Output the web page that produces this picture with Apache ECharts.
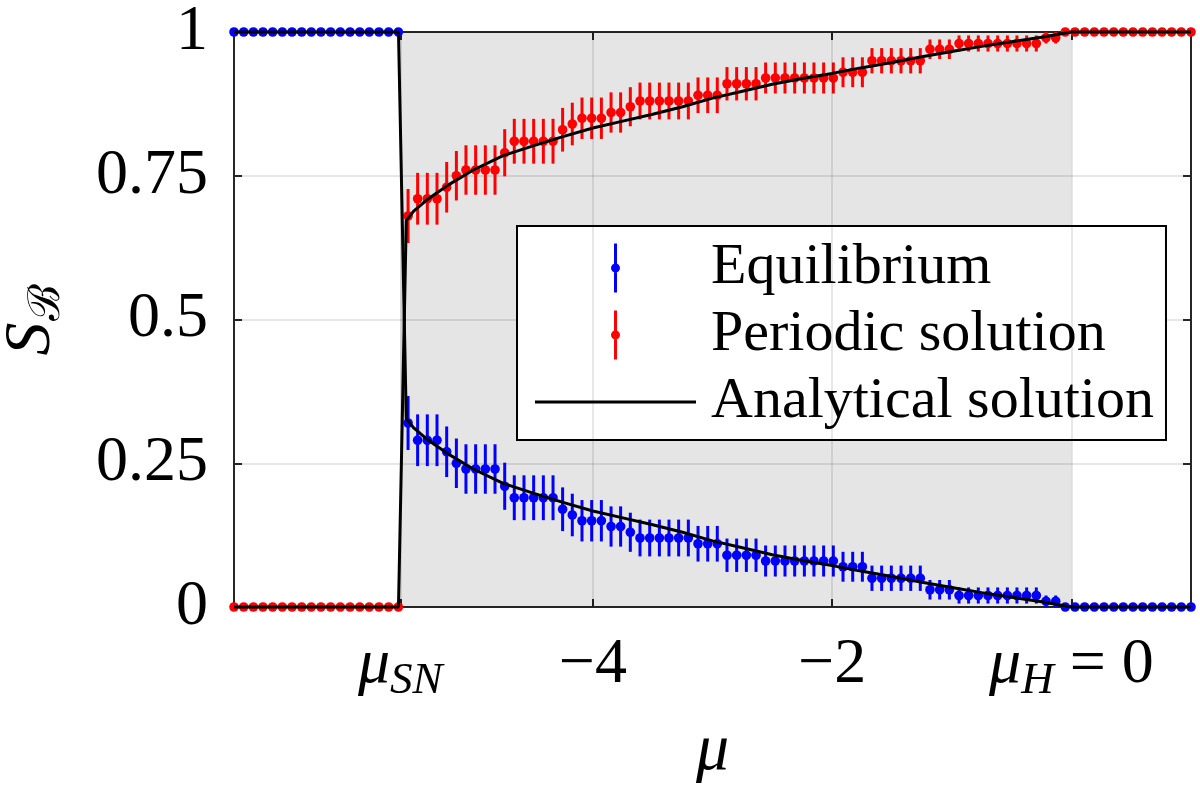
<!DOCTYPE html>
<html>
<head>
<meta charset="utf-8">
<script src="https://cdn.jsdelivr.net/npm/echarts@6/dist/echarts.min.js"></script>
<style>html,body{margin:0;padding:0;background:#fff}#c{width:1200px;height:794px}</style>
</head>
<body>
<div id="c"></div>
<script>
// sample grid of the parameter mu
const mu = [
 -7.000,-6.919,-6.838,-6.758,-6.677,-6.596,-6.515,-6.434,-6.354,-6.273,
 -6.192,-6.111,-6.030,-5.949,-5.869,-5.788,-5.707,-5.626,-5.545,-5.465,
 -5.384,-5.303,-5.222,-5.141,-5.061,-4.980,-4.899,-4.818,-4.737,-4.657,
 -4.576,-4.495,-4.414,-4.333,-4.253,-4.172,-4.091,-4.010,-3.929,-3.848,
 -3.768,-3.687,-3.606,-3.525,-3.444,-3.364,-3.283,-3.202,-3.121,-3.040,
 -2.960,-2.879,-2.798,-2.717,-2.636,-2.556,-2.475,-2.394,-2.313,-2.232,
 -2.152,-2.071,-1.990,-1.909,-1.828,-1.747,-1.667,-1.586,-1.505,-1.424,
 -1.343,-1.263,-1.182,-1.101,-1.020,-0.939,-0.859,-0.778,-0.697,-0.616,
 -0.535,-0.455,-0.374,-0.293,-0.212,-0.131,-0.051,0.030,0.111,0.192,
 0.273,0.354,0.434,0.515,0.596,0.677,0.758,0.838,0.919,1.000];

// basin stability of the equilibrium (blue)
const eqVals = [
 1,1,1,1,1,1,1,1,1,1, 1,1,1,1,1,1,1,1,0.32,0.29,
 0.29,0.29,0.27,0.25,0.24,0.24,0.24,0.24,0.21,0.19,
 0.19,0.19,0.19,0.19,0.17,0.16,0.15,0.15,0.15,0.14,
 0.14,0.13,0.12,0.12,0.12,0.12,0.12,0.12,0.11,0.11,
 0.11,0.09,0.09,0.09,0.09,0.08,0.08,0.08,0.08,0.08,
 0.08,0.08,0.08,0.07,0.07,0.07,0.05,0.05,0.05,0.05,
 0.05,0.05,0.03,0.03,0.03,0.02,0.02,0.02,0.02,0.02,
 0.02,0.02,0.02,0.02,0.01,0.01,0,0,0,0,
 0,0,0,0,0,0,0,0,0,0];

// basin stability of the periodic solution (red)
const perVals = [
 0,0,0,0,0,0,0,0,0,0, 0,0,0,0,0,0,0,0,0.68,0.71,
 0.71,0.71,0.73,0.75,0.76,0.76,0.76,0.76,0.79,0.81,
 0.81,0.81,0.81,0.81,0.83,0.84,0.85,0.85,0.85,0.86,
 0.86,0.87,0.88,0.88,0.88,0.88,0.88,0.88,0.89,0.89,
 0.89,0.91,0.91,0.91,0.91,0.92,0.92,0.92,0.92,0.92,
 0.92,0.92,0.92,0.93,0.93,0.93,0.95,0.95,0.95,0.95,
 0.95,0.95,0.97,0.97,0.97,0.98,0.98,0.98,0.98,0.98,
 0.98,0.98,0.98,0.98,0.99,0.99,1,1,1,1,
 1,1,1,1,1,1,1,1,1,1];

// error bar half-lengths (same for both series)
const errVals = [
 0,0,0,0,0,0,0,0,0,0, 0,0,0,0,0,0,0,0,0.047,0.045,
 0.045,0.045,0.044,0.043,0.043,0.043,0.043,0.043,0.041,0.039,
 0.039,0.039,0.039,0.039,0.038,0.037,0.036,0.036,0.036,0.035,
 0.035,0.034,0.032,0.032,0.032,0.032,0.032,0.032,0.031,0.031,
 0.031,0.029,0.029,0.029,0.029,0.027,0.027,0.027,0.027,0.027,
 0.027,0.027,0.027,0.026,0.026,0.026,0.022,0.022,0.022,0.022,
 0.022,0.022,0.017,0.017,0.017,0.014,0.014,0.014,0.014,0.014,
 0.014,0.014,0.014,0.014,0.010,0.010,0,0,0,0,
 0,0,0,0,0,0,0,0,0,0];

// analytical solution
const anaMu  = [-7,-5.625,-5.56,-5.5,-5.4,-5.3,-5.2,-5.0,-4.75,-4.5,-4.25,-4.0,-3.75,-3.5,-3.25,-3.0,-2.75,-2.5,-2.25,-2.0,-1.75,-1.5,-1.25,-1.0,-0.75,-0.5,-0.25,0,1];
const anaEq  = [1,1,0.328,0.312,0.294,0.279,0.265,0.240,0.215,0.198,0.182,0.167,0.155,0.143,0.130,0.115,0.103,0.091,0.081,0.072,0.062,0.053,0.043,0.034,0.025,0.017,0.009,0,0];
const anaPer = [0,0,0.672,0.688,0.706,0.721,0.735,0.760,0.785,0.802,0.818,0.833,0.845,0.857,0.870,0.885,0.897,0.909,0.919,0.928,0.938,0.947,0.957,0.966,0.975,0.983,0.991,1,1];

const muSN = -5.61;
const muH = 0;
const xTickValues = [muSN, -4, -2, muH];

const FONT = 'Liberation Serif';
const BLUE = '#0000ff', RED = '#ff0000';

function errRender(color) {
  return function (params, api) {
    const x = api.value(0), y = api.value(1), e = api.value(2);
    const p = api.coord([x, y]);
    const children = [];
    if (e > 0) {
      const lo = api.coord([x, y - e]), hi = api.coord([x, y + e]);
      children.push({type: 'line', shape: {x1: lo[0], y1: lo[1], x2: hi[0], y2: hi[1]},
        style: {stroke: color, lineWidth: 3}});
    }
    children.push({type: 'circle', shape: {cx: p[0], cy: p[1], r: 4.8}, style: {fill: color}});
    return {type: 'group', children: children};
  };
}

const eqData = mu.map((m, i) => [m, eqVals[i], errVals[i]]);
const perData = mu.map((m, i) => [m, perVals[i], errVals[i]]);
const anaEqData = anaMu.map((m, i) => [m, anaEq[i]]);
const anaPerData = anaMu.map((m, i) => [m, anaPer[i]]);

const richTick = {
  n:   {fontFamily: FONT, fontSize: 64, lineHeight: 80, color: '#000'},
  it:  {fontFamily: FONT, fontSize: 64, lineHeight: 80, fontStyle: 'italic', color: '#000'},
  sub: {fontFamily: FONT, fontSize: 45, lineHeight: 48, fontStyle: 'italic', color: '#000', padding: [32, 0, 0, 0]}
};

function xLabel(v) {
  if (Math.abs(v - muSN) < 1e-6) return '{it|μ}{sub|SN}';
  if (Math.abs(v - muH) < 1e-6) return '{it|μ}{sub|H}{n| = 0}';
  return '{n|' + (v < 0 ? '\u2212' + Math.abs(v) : String(v)) + '}';
}

const iconBar = 'path://M0 0 M161 60 M79 5.5 L82 5.5 L82 54.5 L79 54.5 Z M76 30 A4.5 4.5 0 1 1 85 30 A4.5 4.5 0 1 1 76 30 Z';
const iconLine = 'path://M0 0 M161 60 M0 28.5 L161 28.5 L161 31.5 L0 31.5 Z';

const chart = echarts.init(document.getElementById('c'));
chart.setOption({
  animation: false,
  backgroundColor: '#fff',
  grid: {left: 234, right: 9, top: 32, bottom: 187, containLabel: false, outerBoundsMode: 'none'},
  xAxis: [{
    type: 'value', min: -7, max: 1, position: 'bottom',
    axisLine: {show: true, onZero: false, lineStyle: {color: '#262626', width: 2}},
    axisTick: {show: true, inside: true, length: 8, customValues: xTickValues, lineStyle: {color: '#262626', width: 2}},
    axisLabel: {show: true, customValues: xTickValues, margin: 18, formatter: xLabel, rich: richTick},
    splitLine: {show: false},
    name: 'μ', nameLocation: 'middle', nameGap: 113,
    nameTextStyle: {fontFamily: FONT, fontSize: 66, fontStyle: 'italic', color: '#000', lineHeight: 64}
  }, {
    type: 'value', min: -7, max: 1, position: 'top',
    axisLine: {show: true, onZero: false, lineStyle: {color: '#262626', width: 2}},
    axisTick: {show: true, inside: true, length: 8, customValues: xTickValues, lineStyle: {color: '#262626', width: 2}},
    axisLabel: {show: false}, splitLine: {show: false}
  }],
  yAxis: [{
    type: 'value', min: 0, max: 1, interval: 0.25, position: 'left',
    axisLine: {show: true, onZero: false, lineStyle: {color: '#262626', width: 2}},
    axisTick: {show: true, inside: true, length: 8, lineStyle: {color: '#262626', width: 2}},
    axisLabel: {show: true, margin: 26, fontFamily: FONT, fontSize: 64, color: '#000'},
    splitLine: {show: true, lineStyle: {color: '#dedede', width: 1.5}},
    name: '{it|S}{sub|ℬ}', nameLocation: 'middle', nameGap: 162, nameRotate: 90,
    nameTextStyle: {rich: {
      it: {fontFamily: FONT, fontSize: 66, lineHeight: 80, fontStyle: 'italic', color: '#000'},
      sub: {fontFamily: FONT, fontSize: 44, lineHeight: 48, color: '#000', padding: [30, 0, 0, 2]}
    }}
  }, {
    type: 'value', min: 0, max: 1, interval: 0.25, position: 'right',
    axisLine: {show: true, onZero: false, lineStyle: {color: '#262626', width: 2}},
    axisTick: {show: true, inside: true, length: 8, lineStyle: {color: '#262626', width: 2}},
    axisLabel: {show: false}, splitLine: {show: false}
  }],
  legend: {
    orient: 'vertical', left: 517, top: 226,
    padding: [12, 12, 8, 18],
    itemWidth: 161, itemHeight: 60, itemGap: 7,
    backgroundColor: '#fff', borderColor: '#000', borderWidth: 2, borderRadius: 0,
    itemStyle: {borderWidth: 0},
    textStyle: {fontFamily: FONT, fontSize: 58, color: '#000', lineHeight: 60, padding: [0, 0, 0, 10]},
    selectedMode: false,
    data: [
      {name: 'Equilibrium', icon: iconBar},
      {name: 'Periodic solution', icon: iconBar},
      {name: 'Analytical solution', icon: iconLine}
    ]
  },
  series: [
    {
      name: 'shade', type: 'line', data: [[-7, -1]], showSymbol: false, silent: true, z: 1,
      lineStyle: {opacity: 0},
      markArea: {silent: true, itemStyle: {color: 'rgba(0,0,0,0.1)'},
        data: [[{xAxis: muSN}, {xAxis: muH}]]},
      markLine: {silent: true, symbol: 'none', label: {show: false},
        lineStyle: {color: 'rgba(0,0,0,0.13)', type: 'solid', width: 1.5},
        data: xTickValues.map(v => ({xAxis: v}))}
    },
    {
      name: 'Equilibrium', type: 'custom', renderItem: errRender(BLUE), data: eqData,
      dimensions: ['mu', 'S', 'err'], encode: {x: 0, y: 1}, clip: false, z: 3,
      itemStyle: {color: BLUE}
    },
    {
      name: 'Periodic solution', type: 'custom', renderItem: errRender(RED), data: perData,
      dimensions: ['mu', 'S', 'err'], encode: {x: 0, y: 1}, clip: false, z: 4,
      itemStyle: {color: RED}
    },
    {
      name: 'Analytical solution', type: 'line', data: anaEqData, showSymbol: false, z: 5,
      color: '#000', itemStyle: {color: '#000'}, lineStyle: {color: '#000', width: 3}, clip: false
    },
    {
      name: 'Analytical solution', type: 'line', data: anaPerData, showSymbol: false, z: 5,
      color: '#000', itemStyle: {color: '#000'}, lineStyle: {color: '#000', width: 3}, clip: false
    }
  ]
});
</script>
</body>
</html>
